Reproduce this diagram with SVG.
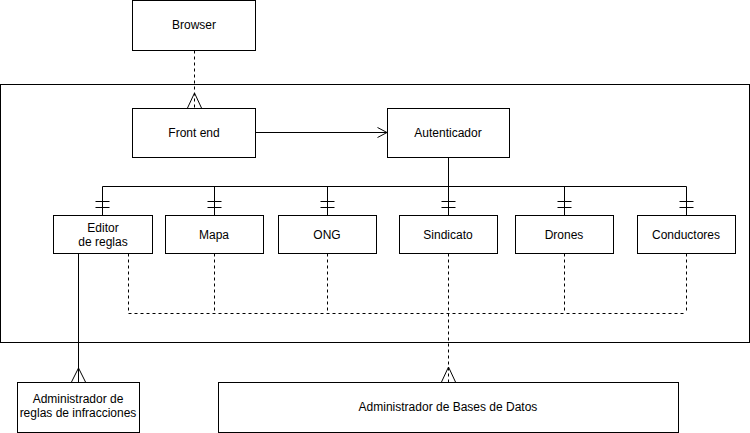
<svg xmlns="http://www.w3.org/2000/svg" width="750" height="433" viewBox="0 0 750 433">
<style>
.box{fill:#fff;stroke:#000;stroke-width:1}
.frame{fill:none;stroke:#000;stroke-width:1}
text{font-family:"Liberation Sans",Arial,sans-serif;font-size:12px;fill:#000;text-anchor:middle}
.ln{fill:none;stroke:#000;stroke-width:1}
.dash{fill:none;stroke:#000;stroke-width:1;stroke-dasharray:3 3}
</style>
<rect width="750" height="433" fill="#fff"/>
<g id="container"><rect class="frame" x="0.5" y="84.5" width="749" height="258"/></g>
<g id="connectors">
  <!-- Browser to Front end -->
  <path class="dash" d="M194.5 50.5V108"/>
  <path class="ln" d="M187.5 108L194.5 93L201.5 108"/>
  <!-- Front end to Autenticador -->
  <path class="ln" d="M255.5 132.5H387"/>
  <path class="ln" d="M377.5 127.5L387 132.5L377.5 137.5"/>
  <!-- Autenticador bus -->
  <path class="ln" d="M448.5 157.5V186.5M102.5 186.5H686.5"/>
  <path class="ln" d="M102.5 186.5V215M214.5 186.5V215M327.5 186.5V215M448.5 186.5V215M564.5 186.5V215M686.5 186.5V215"/>
  <path class="ln" d="M95.5 201.5h14M95.5 207.5h14M207.5 201.5h14M207.5 207.5h14M320.5 201.5h14M320.5 207.5h14M441.5 201.5h14M441.5 207.5h14M557.5 201.5h14M557.5 207.5h14M679.5 201.5h14M679.5 207.5h14"/>
  <!-- dashed DB links -->
  <path class="dash" d="M128.5 253.5V313.5H686.5M214.5 253.5V313.5M327.5 253.5V313.5M564.5 253.5V313.5M686.5 253.5V313.5M448.5 253.5V382"/>
  <path class="ln" d="M441.5 382L448.5 367L455.5 382"/>
  <!-- Editor to Admin reglas -->
  <path class="ln" d="M78.5 253.5V382"/>
  <path class="ln" d="M71.5 382L78.5 368L85.5 382"/>
</g>
<g id="browser"><rect class="box" x="132.5" y="0.5" width="123" height="50"/><text x="194" y="29">Browser</text></g>
<g id="frontend"><rect class="box" x="132.5" y="108.5" width="123" height="49"/><text x="194" y="137">Front end</text></g>
<g id="autenticador"><rect class="box" x="387.5" y="108.5" width="122" height="49"/><text x="448" y="137">Autenticador</text></g>
<g id="editor"><rect class="box" x="53.5" y="215.5" width="99" height="38"/><text x="103" y="232">Editor</text><text x="103" y="246">de reglas</text></g>
<g id="mapa"><rect class="box" x="165.5" y="215.5" width="98" height="38"/><text x="214" y="239">Mapa</text></g>
<g id="ong"><rect class="box" x="278.5" y="215.5" width="98" height="38"/><text x="327" y="239">ONG</text></g>
<g id="sindicato"><rect class="box" x="399.5" y="215.5" width="98" height="38"/><text x="448" y="239">Sindicato</text></g>
<g id="drones"><rect class="box" x="515.5" y="215.5" width="98" height="38"/><text x="564" y="239">Drones</text></g>
<g id="conductores"><rect class="box" x="637.5" y="215.5" width="98" height="38"/><text x="686" y="239">Conductores</text></g>
<g id="adminreglas"><rect class="box" x="17.5" y="382.5" width="122" height="50"/><text x="78" y="403">Administrador de</text><text x="78" y="417">reglas de infracciones</text></g>
<g id="adminbd"><rect class="box" x="218.5" y="382.5" width="460" height="50"/><text x="448" y="411">Administrador de Bases de Datos</text></g>
</svg>
